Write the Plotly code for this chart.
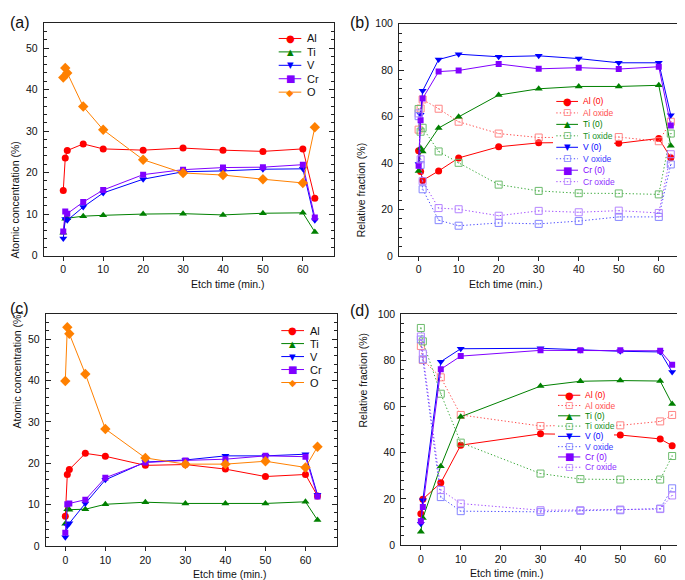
import plotly.graph_objects as go
from plotly.subplots import make_subplots

W, H = 685, 580

# etch times (min.)
t_a = [0, 0.5, 1, 5, 10, 20, 30, 40, 50, 60, 63]
t_b = [0, 0.5, 1, 5, 10, 20, 30, 40, 50, 60, 63]
t_c = [0, 0.5, 1, 5, 10, 20, 30, 40, 50, 60, 63]
t_d = [0, 0.5, 5, 10, 30, 40, 50, 60, 63]

# (a) atomic concentration (%)
a_al = [15.7, 23.5, 25.3, 26.9, 25.7, 25.4, 25.9, 25.4, 25.1, 25.7, 13.8]
a_ti = [5.5, 8.9, 9.0, 9.5, 9.7, 10.0, 10.1, 9.8, 10.2, 10.3, 5.7]
a_v = [4.1, 8.8, 8.5, 11.7, 15.1, 18.4, 20.2, 20.4, 20.8, 20.9, 8.5]
a_cr = [5.8, 10.6, 10.1, 12.9, 15.8, 19.5, 20.7, 21.2, 21.3, 21.9, 9.2]
a_o = [42.9, 45.2, 44.0, 35.9, 30.3, 23.1, 19.9, 19.4, 18.4, 17.5, 30.9]

# (b) relative fraction (%)
b_al0 = [45.3, 36.4, 32.5, 36.6, 42.2, 47.0, 48.7, 48.9, 48.5, 50.6, 42.3]
b_alox = [54.4, 63.5, 67.4, 63.4, 57.8, 52.7, 51.0, 51.1, 51.2, 49.4, 57.8]
b_ti0 = [36.6, 46.5, 45.0, 55.1, 59.9, 69.3, 72.0, 73.0, 73.0, 73.5, 47.4]
b_tiox = [63.3, 53.5, 55.2, 45.0, 40.1, 30.7, 28.0, 27.0, 26.9, 26.5, 52.7]
b_v0 = [39.6, 60.8, 71.1, 84.6, 86.9, 85.8, 86.2, 85.0, 83.2, 83.2, 60.6]
b_vox = [60.2, 39.2, 28.7, 15.4, 13.0, 14.2, 13.8, 15.0, 16.8, 16.8, 39.4]
b_cr0 = [38.8, 58.4, 67.8, 79.4, 79.9, 82.7, 80.6, 81.1, 80.5, 81.5, 56.2]
b_crox = [61.4, 41.6, 32.2, 20.6, 20.1, 17.3, 19.4, 18.8, 19.5, 18.5, 43.8]

# (c) atomic concentration (%)
c_al = [7.2, 17.3, 18.5, 22.4, 21.7, 19.5, 19.7, 18.6, 16.8, 17.3, 12.1]
c_ti = [5.4, 8.9, 8.8, 8.9, 10.1, 10.6, 10.3, 10.3, 10.3, 10.7, 6.3]
c_v = [2.1, 4.9, 5.5, 10.3, 16.0, 20.3, 20.8, 21.8, 21.8, 22.2, 12.4]
c_cr = [3.2, 10.1, 10.3, 11.2, 16.5, 20.2, 20.7, 21.0, 21.8, 21.6, 12.0]
c_o = [39.9, 52.9, 51.3, 41.6, 28.3, 21.3, 19.8, 19.8, 20.5, 19.0, 24.0]

# (d) relative fraction (%)
d_al0 = [13.6, 19.9, 27.0, 43.3, 48.2, 48.0, 47.7, 46.0, 43.1]
d_alox = [86.3, 80.2, 72.7, 56.4, 51.6, 52.0, 51.9, 53.6, 56.4]
d_ti0 = [5.8, 11.7, 34.2, 55.6, 68.9, 71.0, 71.3, 71.1, 61.1]
d_tiox = [94.1, 88.3, 65.6, 44.4, 31.0, 28.6, 28.4, 28.4, 38.6]
d_v0 = [9.2, 19.4, 79.5, 85.1, 85.3, 84.6, 84.0, 83.7, 75.0]
d_vox = [89.1, 80.5, 20.8, 14.7, 14.4, 14.9, 15.1, 15.8, 24.6]
d_cr0 = [10.3, 16.5, 76.2, 81.9, 84.4, 84.4, 84.4, 84.2, 78.2]
d_crox = [90.4, 83.0, 23.9, 18.0, 15.1, 15.1, 15.4, 15.6, 21.5]

RED, GREEN, BLUE, VIOLET, ORANGE = "#FF0000", "#008000", "#0000FF", "#8000FF", "#FF8000"
# oxide colours: (line, marker, text)
RED_OX = ("#FF4A4A", "#FF8585", "#FF5050")
GREEN_OX = ("#38A838", "#6CBB6C", "#22922A")
BLUE_OX = ("#4A4AFF", "#8585FF", "#3A3AFF")
VIOLET_OX = ("#A04AFF", "#B585FF", "#9030FF")
DOT = "1.3px,2.2px"

FONT = "Liberation Sans, Arial, sans-serif"
GLYPH = {"circle": "●", "triangle-up": "▲", "triangle-down": "▼",
         "square": "■", "diamond": "◆", "square-open-dot": "⊡"}
GSIZE = {"circle": 10, "triangle-up": 8.5, "triangle-down": 8.5,
         "square": 10, "diamond": 9.5, "square-open-dot": 10}
MSIZE = {"circle": 7, "triangle-up": 7, "triangle-down": 7,
         "square": 6, "diamond": 8, "square-open-dot": 7}


def px(x):
    return x / W


def py(y):
    return 1 - y / H


def conc_series(al, ti, v, cr, o):
    return [
        ("Al", al, RED, RED, RED, "circle", "solid"),
        ("Ti", ti, GREEN, GREEN, GREEN, "triangle-up", "solid"),
        ("V", v, BLUE, BLUE, BLUE, "triangle-down", "solid"),
        ("Cr", cr, VIOLET, VIOLET, VIOLET, "square", "solid"),
        ("O", o, ORANGE, ORANGE, ORANGE, "diamond", "solid"),
    ]


def frac_series(al0, alox, ti0, tiox, v0, vox, cr0, crox):
    return [
        ("Al (0)", al0, RED, RED, RED, "circle", "solid"),
        ("Al oxide", alox, RED_OX[0], RED_OX[1], RED_OX[2], "square-open-dot", DOT),
        ("Ti (0)", ti0, GREEN, GREEN, GREEN, "triangle-up", "solid"),
        ("Ti oxide", tiox, GREEN_OX[0], GREEN_OX[1], GREEN_OX[2], "square-open-dot", DOT),
        ("V (0)", v0, BLUE, BLUE, BLUE, "triangle-down", "solid"),
        ("V oxide", vox, BLUE_OX[0], BLUE_OX[1], BLUE_OX[2], "square-open-dot", DOT),
        ("Cr (0)", cr0, VIOLET, VIOLET, VIOLET, "square", "solid"),
        ("Cr oxide", crox, VIOLET_OX[0], VIOLET_OX[1], VIOLET_OX[2], "square-open-dot", DOT),
    ]


panels = [
    # t, series, row, col, ylabel, yrange, dtick, minor
    (t_a, conc_series(a_al, a_ti, a_v, a_cr, a_o), 1, 1, "Atomic concentration (%)", [0, 56], 10, 2),
    (t_b, frac_series(b_al0, b_alox, b_ti0, b_tiox, b_v0, b_vox, b_cr0, b_crox), 1, 2,
     "Relative fraction (%)", [0, 100], 20, 4),
    (t_c, conc_series(c_al, c_ti, c_v, c_cr, c_o), 2, 1, "Atomic concentration (%)", [0, 56], 10, 2),
    (t_d, frac_series(d_al0, d_alox, d_ti0, d_tiox, d_v0, d_vox, d_cr0, d_crox), 2, 2,
     "Relative fraction (%)", [0, 100], 20, 4),
]

# plot areas in pixels: left, right, top, bottom
boxes = [(35.7, 326, 9.3, 246.7), (391, 682, 10, 247),
         (37.7, 328.7, 306.7, 543.3), (393.3, 683.3, 306.7, 542.3)]

fig = make_subplots(rows=2, cols=2)

for (t, series, r, c, ylab, yr, dt, mn), (l, rr, tp, bt) in zip(panels, boxes):
    for name, vals, lc, mc, tc, sym, dash in series:
        fig.add_trace(go.Scatter(
            x=t, y=vals, name=name, mode="lines+markers",
            line=dict(color=lc, width=1, dash=dash),
            marker=dict(symbol=sym, size=MSIZE[sym], color=mc,
                        line=dict(width=1 if "open" in sym else 0, color=mc)),
        ), row=r, col=c)
    fig.update_xaxes(
        domain=[px(l), px(rr)], range=[-4.9, 67.8], tickvals=[0, 10, 20, 30, 40, 50, 60],
        ticks="outside", ticklen=4, tickcolor="#222", showline=True, linecolor="#222",
        linewidth=1, mirror=True, showgrid=False, zeroline=False,
        tickfont=dict(family=FONT, size=10.5, color="#111"), row=r, col=c)
    fig.update_yaxes(
        domain=[py(bt), py(tp)], range=yr, dtick=dt, ticks="inside", ticklen=5,
        tickcolor="#222", minor=dict(dtick=mn, ticks="inside", ticklen=3, tickcolor="#222"),
        showline=True, linecolor="#222", linewidth=1, mirror="ticks", showgrid=False,
        zeroline=False, ticklabelstandoff=3,
        tickfont=dict(family=FONT, size=10.5, color="#111"), row=r, col=c)
    # axis titles
    fig.add_annotation(x=px((l + rr) / 2), y=py(bt + 29), xref="paper", yref="paper",
                       text="Etch time (min.)", showarrow=False, yanchor="middle",
                       font=dict(family=FONT, size=10.5, color="#111"))
    fig.add_annotation(x=px(l - 29 if c == 1 else l - 38), y=py((tp + bt) / 2),
                       xref="paper", yref="paper", text=ylab, textangle=-90,
                       showarrow=False, xanchor="center",
                       font=dict(family=FONT, size=10.5, color="#111"))


def add_key(series, x0, x1, xt, y0, dy, fsize, box, coloured):
    bx0, by0, bx1, by1 = box
    fig.add_shape(type="rect", xref="paper", yref="paper", x0=px(bx0), x1=px(bx1),
                  y0=py(by1), y1=py(by0), fillcolor="white", line_width=0, layer="above")
    for i, (name, vals, lc, mc, tc, sym, dash) in enumerate(series):
        y = py(y0 + i * dy)
        fig.add_shape(type="line", xref="paper", yref="paper", x0=px(x0), x1=px(x1),
                      y0=y, y1=y, line=dict(color=lc, width=1, dash=dash), layer="above")
        fig.add_annotation(x=px((x0 + x1) / 2), y=y, xref="paper", yref="paper",
                           text=GLYPH[sym], showarrow=False, xanchor="center", yanchor="middle",
                           font=dict(family="DejaVu Sans", size=GSIZE[sym], color=mc))
        fig.add_annotation(x=px(xt), y=y, xref="paper", yref="paper", text=name,
                           showarrow=False, xanchor="left", yanchor="middle",
                           font=dict(family=FONT, size=fsize, color=tc if coloured else "#111"))


add_key(panels[0][1], 270.7, 293.3, 297, 25, 13.7, 11, (266, 17, 318, 88), False)
add_key(panels[1][1], 548.3, 570, 572.5, 89.3, 11.7, 8.5, (545, 83, 606, 177), True)
add_key(panels[2][1], 273.3, 296, 300, 323.3, 13.25, 11, (269, 315, 321, 384), False)
add_key(panels[3][1], 550, 572.3, 574.5, 389.3, 10.5, 8.5, (547, 383, 606, 469), True)

# panel letters
for lab, x, y in [("(a)", 0, 9), ("(b)", 340, 9), ("(c)", 0, 301), ("(d)", 340, 302.5)]:
    fig.add_annotation(x=px(x), y=py(y), xref="paper", yref="paper", text=lab,
                       showarrow=False, xanchor="left", yanchor="middle",
                       font=dict(family=FONT, size=16, color="#111"))

fig.update_layout(
    width=W, height=H, margin=dict(l=0, r=0, t=0, b=0),
    paper_bgcolor="white", plot_bgcolor="white", showlegend=False,
    font=dict(family=FONT, size=10.5, color="#111"),
)

fig.write_html("out.html")
